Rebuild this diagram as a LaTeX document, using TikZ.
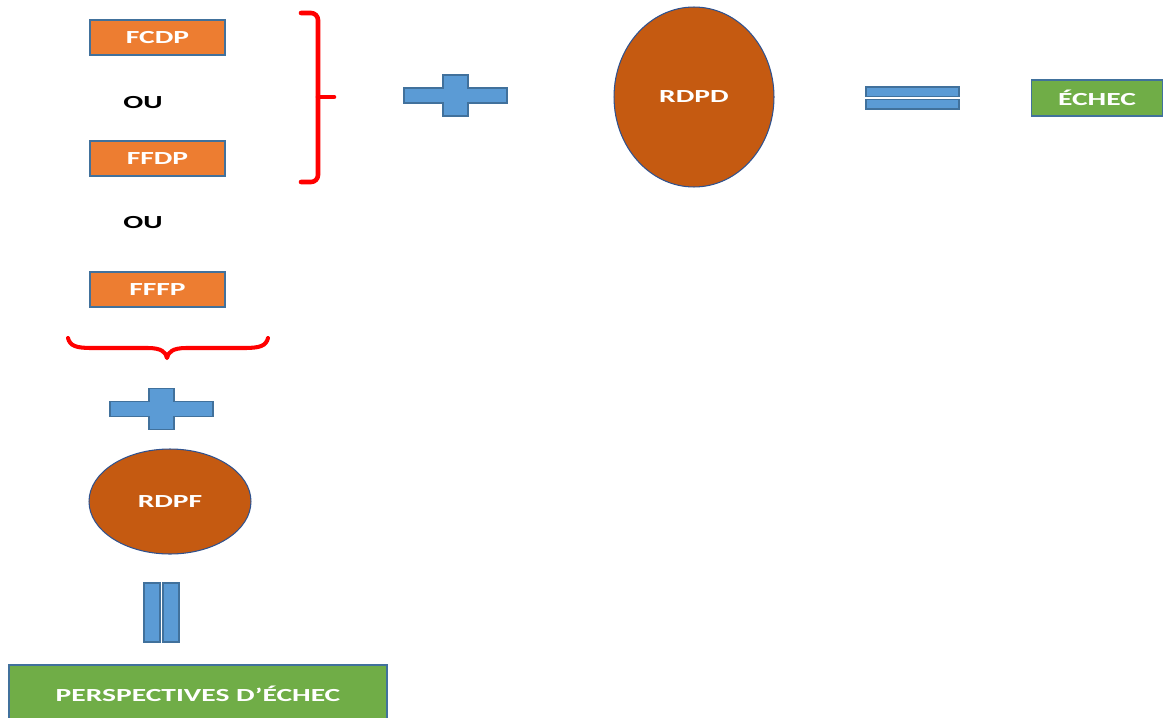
\documentclass[tikz,border=0pt]{standalone}
\usepackage{fontspec}
\newfontfamily\lblfont[FakeStretch=1.6]{Carlito}
\usetikzlibrary{shapes.geometric}
\definecolor{boxorange}{HTML}{ED7D31}
\definecolor{ovalbrown}{HTML}{C55A11}
\definecolor{boxgreen}{HTML}{70AD47}
\definecolor{signblue}{HTML}{5B9BD5}
\definecolor{edgeblue}{HTML}{41719C}
\definecolor{ovaledge}{HTML}{2F528F}
\definecolor{bracered}{HTML}{FF0000}
\tikzset{
  txt/.style={font=\lblfont\bfseries\fontsize{10.5}{12}\selectfont, inner sep=0pt},
  choice/.style={txt, rectangle, draw=edgeblue, line width=0.8pt, fill=boxorange,
    text=white, minimum width=2.7cm, minimum height=0.7cm},
  result/.style={txt, rectangle, draw=edgeblue, line width=0.8pt, fill=boxgreen, text=white},
  oval/.style={txt, ellipse, draw=ovaledge, line width=0.6pt, fill=ovalbrown, text=white},
  ortext/.style={txt, text=black},
  brace/.style={draw=bracered, line width=2.6pt, line cap=round, line join=round},
  sign/.style={fill=signblue, draw=edgeblue, line width=0.6pt},
  plussign/.pic={
    \path[sign] (-51.5,-7.5) -- (-12.5,-7.5) -- (-12.5,-20.5) -- (12.5,-20.5)
      -- (12.5,-7.5) -- (51.5,-7.5) -- (51.5,7.5) -- (12.5,7.5) -- (12.5,20.5)
      -- (-12.5,20.5) -- (-12.5,7.5) -- (-51.5,7.5) -- cycle;
  }
}
\begin{document}
\begin{tikzpicture}[x=0.02cm,y=-0.02cm]
\useasboundingbox (0,0) rectangle (1163,717);

% the three alternatives
\node[choice] (fcdp) at (157.5,37.5) {FCDP};
\node[ortext] (ou1) at (143,103) {OU};
\node[choice] (ffdp) at (157.5,158.5) {FFDP};
\node[ortext] (ou2) at (143,223) {OU};
\node[choice] (fffp) at (157.5,289.5) {FFFP};

% right-hand bracket grouping FCDP / FFDP
\draw[brace, rounded corners=4] (301,13) -| (318,182) -- (301,182);
\draw[brace] (318,97) -- (334,97);

% upper row: + RDPD = ÉCHEC
\pic at (455.5,95.5) {plussign};
\node[oval, minimum width=3.2cm, minimum height=3.6cm] (rdpd) at (694,97) {RDPD};
\path[sign] (866,87) rectangle (959,96.3);
\path[sign] (866,99.7) rectangle (959,109);
\node[result, minimum width=2.62cm, minimum height=0.72cm] (echec) at (1097,98) {ÉCHEC};

% lower brace under the alternatives
\draw[brace, line width=2.3pt] (68,338) .. controls (70,346) and (76,348) .. (92,348)
  -- (148,348) .. controls (161,348) and (166,352) .. (167,358)
  .. controls (168,352) and (173,348) .. (186,348)
  -- (244,348) .. controls (260,348) and (266,346) .. (268,338);

% lower column: + RDPF = PERSPECTIVES D'ÉCHEC
\pic at (161.5,409) {plussign};
\node[oval, minimum width=3.24cm, minimum height=2.1cm] (rdpf) at (170,501.5) {RDPF};
\path[sign] (144,583) rectangle (160,642);
\path[sign] (163,583) rectangle (179,642);
\node[result, minimum width=7.56cm, minimum height=1.16cm] (persp) at (198,694) {PERSPECTIVES D’ÉCHEC};
\end{tikzpicture}
\end{document}
